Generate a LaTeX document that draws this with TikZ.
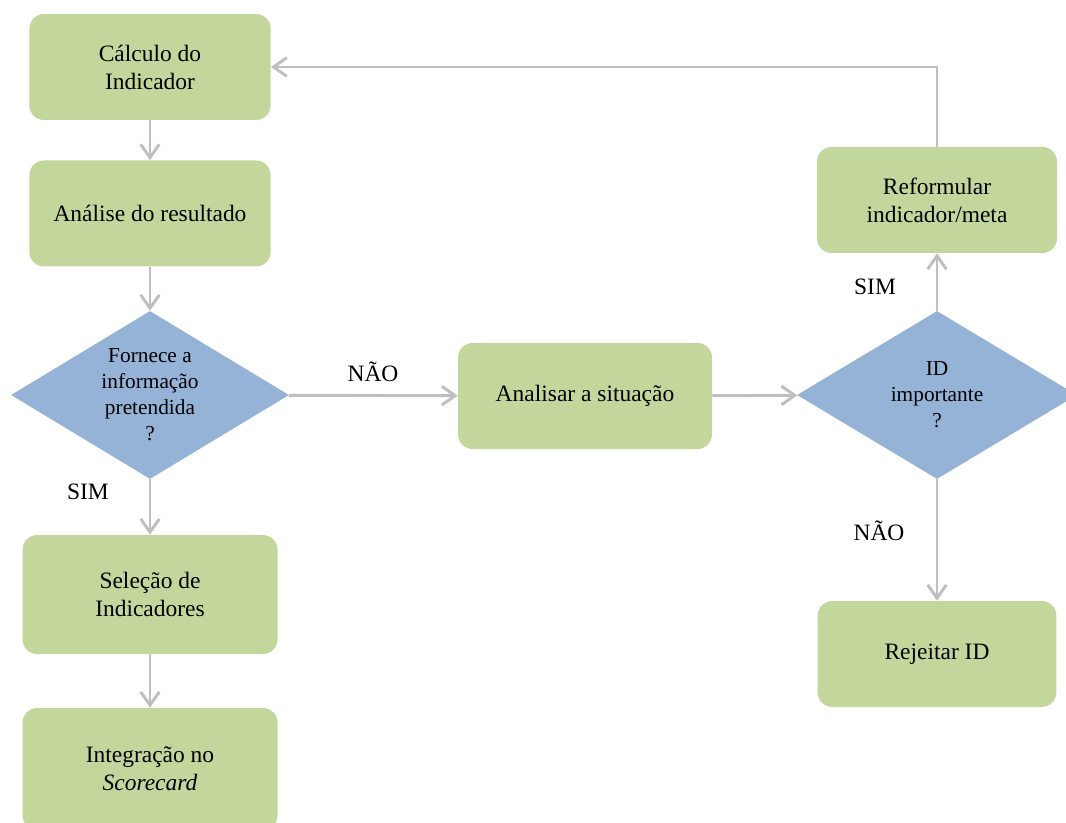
\documentclass[tikz,border=0pt]{standalone}
\usepackage{fontspec}
\setmainfont{Liberation Serif}
\usetikzlibrary{arrows.meta, positioning, shapes.geometric}
\definecolor{boxgreen}{HTML}{C3D69B}
\definecolor{decblue}{HTML}{95B3D7}
\definecolor{flowgray}{HTML}{BFBFBF}
\tikzset{%
	stepbox/.style={rectangle, rounded corners=11pt, fill=boxgreen, inner sep=2pt,%
		minimum width=181pt, minimum height=79.5pt, align=center,%
		font=\fontsize{17.6}{21}\selectfont},
	decision/.style={diamond, aspect=1.65, fill=decblue, inner sep=0pt, minimum width=208.5pt,%
		minimum height=126pt, align=center, font=\fontsize{16}{19.5}\selectfont},
	flow/.style={draw=flowgray, line width=2.2pt,%
		-{Straight Barb[length=10pt, width=14pt]}},
	answer/.style={font=\fontsize{17.6}{21}\selectfont}
}

\begin{document}
\begin{tikzpicture}[x=0.75pt, y=-0.75pt]
	\useasboundingbox (0,0) rectangle (1066,823);

	% left column
	\node[stepbox] (calc)  at (150,67)    {Cálculo do\\Indicador};
	\node[stepbox] (anal)  at (150,213.5) {Análise do resultado};
	\node[decision] (quest) at (150,395)  {Fornece a\\informação\\pretendida\\?};
	\node[stepbox, minimum width=191.25pt, minimum height=89.25pt] (sel)   at (150,594.5) {Seleção de\\Indicadores};
	\node[stepbox, minimum width=191.25pt, minimum height=91.5pt]  (integ) at (150,769)   {Integração no\\\textit{Scorecard}};

	% middle and right
	\node[stepbox, minimum width=190.5pt] (sit)    at (585,396) {Analisar a situação};
	\node[decision, minimum width=210pt]  (idimp)  at (937,395) {ID\\importante\\?};
	\node[stepbox, minimum width=180pt]   (reform) at (937,200) {Reformular\\indicador/meta};
	\node[stepbox, minimum width=179pt]   (rej)    at (937,654) {Rejeitar ID};

	% answers
	\node[answer] (nao1) at (373,372) {NÃO};
	\node[answer] (sim1) at (88,492)  {SIM};
	\node[answer] (sim2) at (875,287) {SIM};
	\node[answer] (nao2) at (879,531) {NÃO};

	\draw[flow] (calc)  to (anal);
	\draw[flow] (anal)  to (quest);
	\draw[flow] (quest) to (sel);
	\draw[flow] (sel)   to (integ);
	\draw[flow] (quest) to (sit);
	\draw[flow] (sit)   to (idimp);
	\draw[flow] (idimp) to (reform);
	\draw[flow] (idimp) to (rej);
	\draw[flow] (reform.north) |- (calc.east);
\end{tikzpicture}
\end{document}
